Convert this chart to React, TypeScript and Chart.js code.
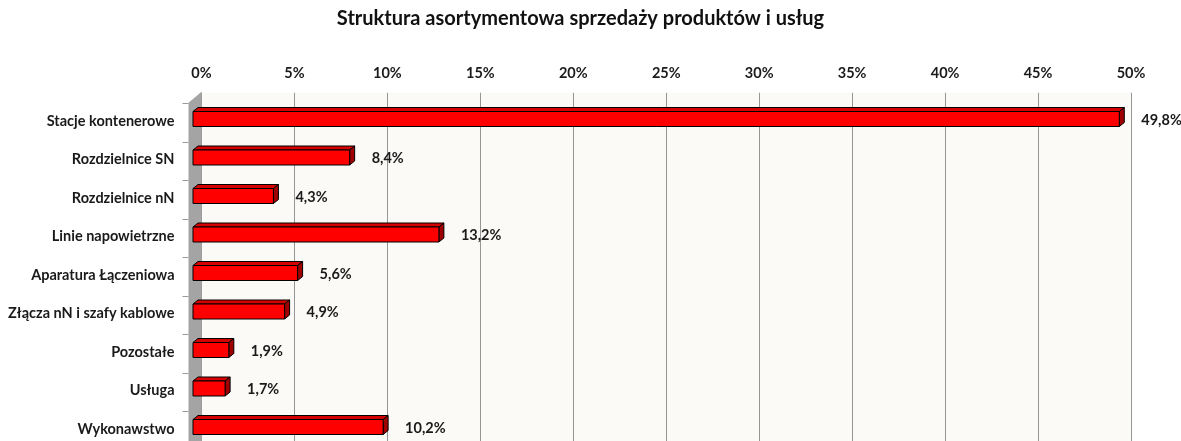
import React, { useEffect, useRef } from 'react';
import { Chart, registerables } from 'chart.js';

Chart.register(...registerables);

const titleText = 'Struktura asortymentowa sprzedaży produktów i usług';
const categories = [
  'Stacje kontenerowe',
  'Rozdzielnice SN',
  'Rozdzielnice nN',
  'Linie napowietrzne',
  'Aparatura Łączeniowa',
  'Złącza nN i szafy kablowe',
  'Pozostałe',
  'Usługa',
  'Wykonawstwo',
];
const shares = [49.8, 8.4, 4.3, 13.2, 5.6, 4.9, 1.9, 1.7, 10.2];
const axisMin = 0;
const axisMax = 50;
const axisStep = 5;

const FONT = 'Lato, "Open Sans", "DejaVu Sans", sans-serif';
const TEXT = '#1a1a1a';

const fmt = (v: number) => v.toFixed(1).replace('.', ',') + '%';

const bar3d = {
  id: 'bar3d',
  beforeDraw(chart: any) {
    const { ctx, chartArea: a } = chart;
    ctx.save();
    ctx.fillStyle = '#fcfaf7';
    ctx.fillRect(a.left, a.top - 5, a.right - a.left, a.bottom - a.top + 30);
    ctx.restore();
  },
  beforeDatasetsDraw(chart: any) {
    const { ctx, chartArea: a } = chart;
    ctx.save();
    // side wall
    ctx.fillStyle = '#a4a4a4';
    ctx.beginPath();
    ctx.moveTo(a.left, a.top - 6);
    ctx.lineTo(a.left, a.bottom + 30);
    ctx.lineTo(a.left - 13, a.bottom + 30);
    ctx.lineTo(a.left - 13, a.top + 5);
    ctx.closePath();
    ctx.fill();
    // category tick marks on the front edge
    const n = categories.length;
    const band = (a.bottom - a.top) / n;
    ctx.strokeStyle = '#9a9a9a';
    ctx.lineWidth = 1;
    for (let i = 0; i <= n; i++) {
      const y = Math.round(a.top + i * band + 5.5) + 0.5;
      ctx.beginPath();
      ctx.moveTo(a.left - 19, y);
      ctx.lineTo(a.left - 13, y);
      ctx.stroke();
    }
    ctx.restore();
  },
  afterDatasetsDraw(chart: any) {
    const { ctx } = chart;
    const meta = chart.getDatasetMeta(0);
    const dx = 5;
    const dy = 4;
    ctx.save();
    ctx.lineWidth = 1;
    ctx.strokeStyle = '#000000';
    ctx.lineJoin = 'round';
    meta.data.forEach((el: any, i: number) => {
      const { x, y, base, height } = el.getProps(['x', 'y', 'base', 'height'], true);
      const top = y - height / 2;
      const bottom = y + height / 2;
      const Lb = base - 4;
      const Rb = x - 3;
      const Lf = Lb - dx;
      const Rf = Rb - dx;
      const Tf = top + dy;
      // top face
      ctx.fillStyle = '#d40000';
      ctx.beginPath();
      ctx.moveTo(Lf, Tf);
      ctx.lineTo(Lb, top);
      ctx.lineTo(Rb, top);
      ctx.lineTo(Rf, Tf);
      ctx.closePath();
      ctx.fill();
      ctx.stroke();
      // side face
      ctx.fillStyle = '#a00000';
      ctx.beginPath();
      ctx.moveTo(Rf, Tf);
      ctx.lineTo(Rb, top);
      ctx.lineTo(Rb, bottom - dy);
      ctx.lineTo(Rf, bottom);
      ctx.closePath();
      ctx.fill();
      ctx.stroke();
      // front face
      ctx.fillStyle = '#ff0000';
      ctx.fillRect(Lf, Tf, Rf - Lf, bottom - Tf);
      ctx.strokeRect(Lf, Tf, Rf - Lf, bottom - Tf);
      // value label
      ctx.fillStyle = TEXT;
      ctx.font = `bold 14.5px ${FONT}`;
      ctx.textAlign = 'left';
      ctx.textBaseline = 'middle';
      ctx.fillText(fmt(shares[i]), x + 14, y + 3);
    });
    ctx.restore();
  },
  afterDraw(chart: any) {
    const { ctx } = chart;
    ctx.save();
    ctx.fillStyle = '#111111';
    ctx.font = `bold 20px ${FONT}`;
    ctx.textAlign = 'center';
    ctx.textBaseline = 'alphabetic';
    ctx.fillText(titleText, 580.5, 25);
    ctx.restore();
  },
};

export default function App() {
  const ref = useRef<HTMLCanvasElement | null>(null);
  useEffect(() => {
    document.body.style.margin = '0';
    const canvas = ref.current;
    if (!canvas) return;
    const chart = new Chart(canvas, {
      type: 'bar',
      data: {
        labels: categories,
        datasets: [
          {
            data: shares,
            backgroundColor: 'rgba(0,0,0,0)',
            borderWidth: 0,
            barThickness: 19,
          },
        ],
      },
      options: {
        indexAxis: 'y',
        responsive: false,
        animation: false,
        devicePixelRatio: 1,
        layout: { padding: { left: 0, right: 50, top: 0, bottom: 15.75 } },
        plugins: {
          legend: { display: false },
          tooltip: { enabled: false },
          title: { display: false },
        },
        scales: {
          x: {
            position: 'top',
            min: axisMin,
            max: axisMax,
            ticks: {
              stepSize: axisStep,
              callback: (v: any) => v + '%',
              font: { family: FONT, size: 14.5, weight: 'bold' },
              color: TEXT,
              padding: 11,
              autoSkip: false,
              maxRotation: 0,
            },
            grid: { color: '#969696', tickLength: 5, drawTicks: true, lineWidth: 1 },
            border: { display: false },
            afterFit(s: any) {
              s.height = 97.75;
            },
          },
          y: {
            ticks: {
              font: { family: FONT, size: 14.5, weight: 'bold' },
              color: TEXT,
              padding: 27,
              labelOffset: 4,
              autoSkip: false,
            },
            grid: { display: false, drawTicks: false },
            border: { display: false },
            afterFit(s: any) {
              s.width = 201.5;
              s.paddingTop = 0;
              s.paddingBottom = 0;
            },
          },
        },
      } as any,
      plugins: [bar3d],
    });
    return () => chart.destroy();
  }, []);
  return (
    <div style={{ position: 'absolute', left: 0, top: 0, width: 1181, height: 460 }}>
      <canvas ref={ref} width={1181} height={460} />
    </div>
  );
}
